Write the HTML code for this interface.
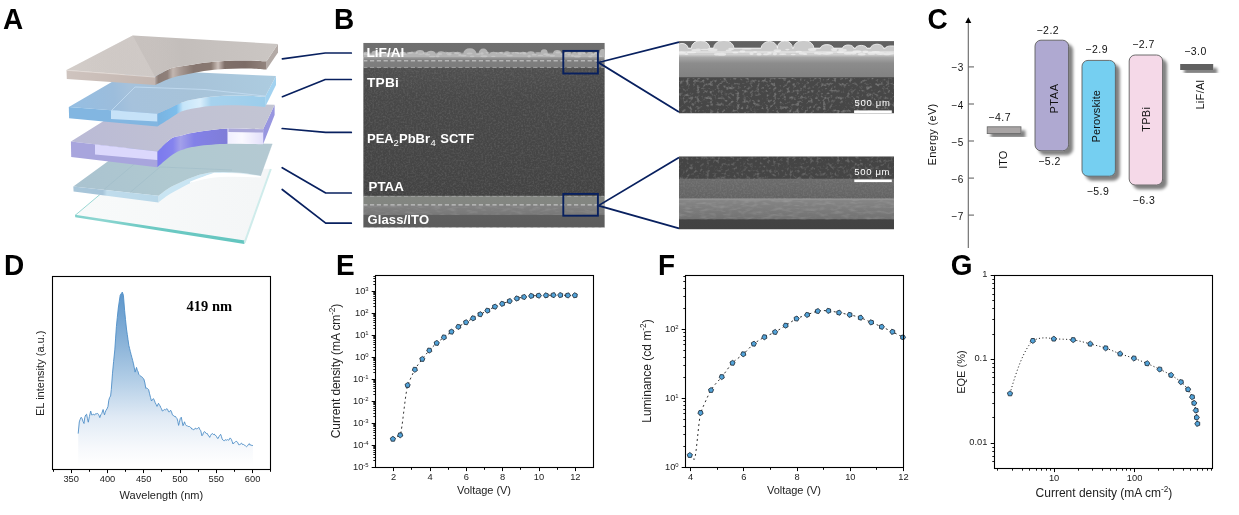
<!DOCTYPE html>
<html lang="en"><head><meta charset="utf-8"><title>Figure</title>
<style>
html,body{margin:0;padding:0;background:#fff;overflow:hidden}
svg{display:block}
text{font-family:"Liberation Sans",sans-serif}
.pl{font-size:29.3px;font-weight:bold;fill:#000}
.tk{font-size:9.3px;fill:#1c1c1c}
.ax{stroke:#000;stroke-width:1.2;fill:none}
.serif{font-family:"Liberation Serif",serif}
</style></head><body>
<svg width="1239" height="515" viewBox="0 0 1239 515">
<rect width="1239" height="515" fill="#fff"/>
<g id="panelA">
<defs>
<linearGradient id="aTop" x1="70" y1="70" x2="275" y2="45" gradientUnits="userSpaceOnUse"><stop offset="0" stop-color="#d3cdc9"/><stop offset="0.4" stop-color="#c9c3c0"/><stop offset="0.55" stop-color="#c3bebb"/><stop offset="1" stop-color="#cbc6c3"/></linearGradient>
<linearGradient id="aFront" x1="66" y1="0" x2="156" y2="0" gradientUnits="userSpaceOnUse"><stop offset="0" stop-color="#cfc4bf"/><stop offset="1" stop-color="#c3b5af"/></linearGradient>
<linearGradient id="aArc" x1="155" y1="0" x2="267" y2="0" gradientUnits="userSpaceOnUse"><stop offset="0" stop-color="#b3a59f"/><stop offset="0.03" stop-color="#8b7c76"/><stop offset="0.11" stop-color="#8f807a"/><stop offset="0.16" stop-color="#c2b6b0"/><stop offset="0.223" stop-color="#a89a94"/><stop offset="0.345" stop-color="#86766f"/><stop offset="0.5" stop-color="#88786f"/><stop offset="0.563" stop-color="#cbbfb9"/><stop offset="0.623" stop-color="#7f6f69"/><stop offset="0.805" stop-color="#7c6c66"/><stop offset="1" stop-color="#93847e"/></linearGradient>
<linearGradient id="bTop" x1="70" y1="110" x2="275" y2="80" gradientUnits="userSpaceOnUse"><stop offset="0" stop-color="#95bee2"/><stop offset="0.22" stop-color="#9cbddc"/><stop offset="0.3" stop-color="#a6c2dc"/><stop offset="0.6" stop-color="#a7c3d9"/><stop offset="1" stop-color="#adcce0"/></linearGradient>
<linearGradient id="bArc" x1="157" y1="0" x2="265" y2="0" gradientUnits="userSpaceOnUse"><stop offset="0" stop-color="#79b3e1"/><stop offset="0.18" stop-color="#7cbdeb"/><stop offset="0.24" stop-color="#c5e5f9"/><stop offset="0.4" stop-color="#d9eefc"/><stop offset="0.5" stop-color="#a6d2ee"/><stop offset="1" stop-color="#9ccdeb"/></linearGradient>
<linearGradient id="pTop" x1="70" y1="145" x2="275" y2="110" gradientUnits="userSpaceOnUse"><stop offset="0" stop-color="#babad6"/><stop offset="0.5" stop-color="#c0c1d3"/><stop offset="1" stop-color="#c3c5d3"/></linearGradient>
<linearGradient id="pArc" x1="157" y1="0" x2="263" y2="0" gradientUnits="userSpaceOnUse"><stop offset="0" stop-color="#7a79ee"/><stop offset="0.15" stop-color="#8583ee"/><stop offset="0.22" stop-color="#a3a0ea"/><stop offset="0.35" stop-color="#8381e8"/><stop offset="0.66" stop-color="#7f7dd8"/><stop offset="0.67" stop-color="#f0effe"/><stop offset="0.8" stop-color="#faf9ff"/><stop offset="1" stop-color="#e3e0fb"/></linearGradient>
<linearGradient id="tTop" x1="75" y1="190" x2="270" y2="150" gradientUnits="userSpaceOnUse"><stop offset="0" stop-color="#aac3d0"/><stop offset="0.5" stop-color="#b0c9d0"/><stop offset="1" stop-color="#b4c9d2"/></linearGradient>
<linearGradient id="tFront" x1="73" y1="0" x2="158" y2="0" gradientUnits="userSpaceOnUse"><stop offset="0" stop-color="#a8c6d9"/><stop offset="0.35" stop-color="#a6c4d9"/><stop offset="0.4" stop-color="#c0dcec"/><stop offset="1" stop-color="#b8d7e8"/></linearGradient>
<linearGradient id="gTop" x1="80" y1="215" x2="260" y2="180" gradientUnits="userSpaceOnUse"><stop offset="0" stop-color="#f8fafa"/><stop offset="1" stop-color="#f4f6f7"/></linearGradient>
<linearGradient id="aCrease" x1="143" y1="58" x2="180" y2="48" gradientUnits="userSpaceOnUse"><stop offset="0" stop-color="#bbb5b2" stop-opacity="0.2"/><stop offset="1" stop-color="#c4bebb" stop-opacity="0"/></linearGradient>
<linearGradient id="aCreaseL" x1="143" y1="58" x2="95" y2="70" gradientUnits="userSpaceOnUse"><stop offset="0" stop-color="#d8d2cf" stop-opacity="0.38"/><stop offset="1" stop-color="#d2ccc9" stop-opacity="0.1"/></linearGradient>
<linearGradient id="gEdge" x1="75" y1="0" x2="245" y2="0" gradientUnits="userSpaceOnUse"><stop offset="0" stop-color="#7fd0cb"/><stop offset="0.15" stop-color="#8ed6d1"/><stop offset="0.4" stop-color="#6ecac4"/><stop offset="1" stop-color="#63c5bf"/></linearGradient>
<filter id="ablur"><feGaussianBlur stdDeviation="0.45"/></filter>
</defs>
<g filter="url(#ablur)">
<path d="M75.2 215.3L135 165L271 169L244.8 242.6Z" fill="url(#gTop)"/>
<path d="M75 214.8L244.8 240.6L244.3 244L75.3 217.2Z" fill="url(#gEdge)"/>
<path d="M75.2 215.3L135 165" stroke="#8fd3cf" stroke-width="0.9" fill="none"/>
<path d="M244.6 242.6L270.8 169" stroke="#cfeceb" stroke-width="2" fill="none"/>
<path d="M272.4 143.8L272.4 144.3L260.8 176.3L260.8 176.0Z" fill="#b5d2de"/>
<path d="M158.5 195.7C160.2 194.4 164.9 190.5 168.7 188.2C172.5 185.9 177.1 183.8 181.3 181.9C185.5 180.0 190.5 178.1 193.9 176.8C197.3 175.5 198.1 175.1 201.5 174.3C204.9 173.5 209.0 172.5 214.1 172.2C219.2 171.9 226.3 172.1 231.8 172.3C237.3 172.5 242.2 173.0 247.0 173.6C251.8 174.2 258.5 175.6 260.8 176.0L260.8 176.3C258.5 175.9 251.8 174.5 247.0 173.9C242.2 173.3 237.3 172.8 231.8 172.7C226.3 172.6 219.2 172.6 214.1 173.4C209.0 174.2 204.9 176.2 201.5 177.5C198.1 178.8 197.3 179.5 193.9 181.2C190.5 182.9 185.5 185.4 181.3 187.7C177.1 190.0 172.5 192.3 168.7 194.8C164.9 197.3 160.2 201.2 158.5 202.5Z" fill="#c9e5f3"/>
<path d="M73.3 186.5L134.5 142.0L272.4 143.8L260.8 176.0C258.5 175.6 251.8 174.2 247.0 173.6C242.2 173.0 237.3 172.5 231.8 172.3C226.3 172.1 219.2 171.9 214.1 172.2C209.0 172.5 204.9 173.5 201.5 174.3C198.1 175.1 197.3 175.5 193.9 176.8C190.5 178.1 185.5 180.0 181.3 181.9C177.1 183.8 172.5 185.9 168.7 188.2C164.9 190.5 160.2 194.4 158.5 195.7Z" fill="url(#tTop)"/>
<path d="M73.3 186.5L158.5 195.7L158.5 202.5L73.6 191.5Z" fill="url(#tFront)"/>

<path d="M190 181.8C196 179.4 203 176.6 214.1 172.8C222 172.4 240 173 260.8 176.3L260.8 177.6C247 176.6 232 176.4 220 177C210 177.6 200 179.6 190 183Z" fill="#ffffff"/>
<path d="M104 189.5L139 160M130 192.5L160 167L232 170" stroke="#9dbac6" stroke-width="0.6" fill="none" opacity="0.8"/>
<path d="M274.6 104.8L274.6 115.0L263.1 144.2L263.1 129.2Z" fill="#9896e0"/>
<path d="M157.2 151.6C159.3 149.6 166.1 142.1 170.0 139.4C173.9 136.7 176.4 136.8 180.9 135.6C185.4 134.3 189.3 133.1 197.2 131.9C205.1 130.7 217.4 128.9 228.4 128.5C239.4 128.1 257.3 129.1 263.1 129.2L263.1 144.2C257.3 144.1 239.4 143.5 228.4 143.8C217.4 144.1 205.1 145.1 197.2 146.2C189.3 147.3 185.4 148.6 180.9 150.3C176.4 152.0 173.9 153.6 170.0 156.4C166.1 159.2 159.3 165.5 157.2 167.3Z" fill="url(#pArc)"/>
<path d="M70.9 141.5L134.0 102.0L274.6 104.8L263.1 129.2C257.3 129.1 239.4 128.1 228.4 128.5C217.4 128.9 205.1 130.7 197.2 131.9C189.3 133.1 185.4 134.3 180.9 135.6C176.4 136.8 173.9 136.7 170.0 139.4C166.1 142.1 159.3 149.6 157.2 151.6Z" fill="url(#pTop)"/>
<path d="M70.9 141.5L157.2 151.6L157.2 167.3L71.2 157.1Z" fill="#a8a5dd"/>
<path d="M95 144.4L157.2 151.6L157.2 160L95 154.4Z" fill="#dbd8fc"/>
<path d="M228.4 128.5L263.1 129.2L263.1 132.6L228.4 132Z" fill="#aaa7d9"/>
<path d="M276.0 76.0L276.0 85.1L265.1 106.9L265.1 96.7Z" fill="#a2d2f0"/>
<path d="M157.2 113.7C159.3 112.8 166.3 109.7 170.0 108.0C173.7 106.3 176.1 104.8 179.5 103.5C182.9 102.2 185.2 101.2 190.4 100.1C195.6 99.0 202.9 97.5 210.8 96.7C218.7 96.0 228.9 95.6 238.0 95.6C247.1 95.6 260.6 96.5 265.1 96.7L265.1 106.9C260.6 106.6 247.1 105.3 238.0 105.2C228.9 105.0 218.7 105.3 210.8 106.0C202.9 106.7 195.6 108.0 190.4 109.1C185.2 110.2 182.9 110.9 179.5 112.5C176.1 114.1 173.7 116.2 170.0 118.5C166.3 120.8 159.3 125.2 157.2 126.6Z" fill="url(#bArc)"/>
<path d="M68.8 106.9L133.3 69.5L276.0 76.0L265.1 96.7C260.6 96.5 247.1 95.6 238.0 95.6C228.9 95.6 218.7 96.0 210.8 96.7C202.9 97.5 195.6 99.0 190.4 100.1C185.2 101.2 182.9 102.2 179.5 103.5C176.1 104.8 173.7 106.3 170.0 108.0C166.3 109.7 159.3 112.8 157.2 113.7Z" fill="url(#bTop)"/>
<path d="M68.8 106.9L157.2 113.7L157.2 126.6L69.1 118.2Z" fill="#82b6e1"/>
<path d="M111 110.2L157.2 113.7L157.2 121.5L111 119Z" fill="#c6e2f8"/>
<path d="M112 110L135 87L205 89.5L265 96" stroke="#c4ddf2" stroke-width="1" fill="none" opacity="0.8"/>
<path d="M278.0 44.0L278.0 52.5L266.5 69.5L266.5 61.3Z" fill="#b3aaa6"/>
<path d="M155.1 76.7C157.6 75.4 165.2 70.6 170.0 68.8C174.8 67.0 177.9 67.1 183.6 66.1C189.3 65.1 197.2 63.6 204.0 62.7C210.8 61.9 217.6 61.4 224.4 61.0C231.2 60.6 237.7 60.6 244.7 60.6C251.7 60.6 262.9 61.2 266.5 61.3L266.5 69.5C262.9 69.3 251.7 68.6 244.7 68.5C237.7 68.4 231.2 68.6 224.4 69.0C217.6 69.4 210.8 70.0 204.0 71.0C197.2 72.0 189.3 73.8 183.6 75.0C177.9 76.2 174.8 76.8 170.0 78.5C165.2 80.2 157.6 84.0 155.1 85.1Z" fill="url(#aArc)"/>
<path d="M66.5 69.9L132.7 35.5L278.0 44.0L266.5 61.3C262.9 61.2 251.7 60.6 244.7 60.6C237.7 60.6 231.2 60.6 224.4 61.0C217.6 61.4 210.8 61.9 204.0 62.7C197.2 63.6 189.3 65.1 183.6 66.1C177.9 67.1 174.8 67.0 170.0 68.8C165.2 70.6 157.6 75.4 155.1 76.7Z" fill="url(#aTop)"/>
<path d="M66.5 69.9L155.1 76.7L155.1 85.1L66.8 79.0Z" fill="url(#aFront)"/>

<path d="M66.5 69.9L132.7 35.5L155.1 76.7Z" fill="url(#aCreaseL)"/>
<path d="M132.7 35.5L155.1 76.7L170 68.8L183.6 66.1L204 62.7L165 37.4Z" fill="url(#aCrease)"/>
<path d="M66.7 70.3L155.1 77.1" stroke="#e6dfdb" stroke-width="0.7" fill="none"/>
</g>
</g>
<g id="panelB">
<defs>
<filter id="nzA" x="0" y="0" width="100%" height="100%"><feTurbulence type="fractalNoise" baseFrequency="0.55" numOctaves="2" seed="4"/><feColorMatrix type="matrix" values="0 0 0 0 1  0 0 0 0 1  0 0 0 0 1  1.6 0 0 0 -0.62"/></filter>
<filter id="nzB" x="0" y="0" width="100%" height="100%"><feTurbulence type="fractalNoise" baseFrequency="0.3" numOctaves="2" seed="11"/><feColorMatrix type="matrix" values="0 0 0 0 1  0 0 0 0 1  0 0 0 0 1  3.5 0 0 0 -1.75"/><feGaussianBlur stdDeviation="0.4"/></filter>
<filter id="nzC" x="0" y="0" width="100%" height="100%"><feTurbulence type="fractalNoise" baseFrequency="0.12 0.35" numOctaves="2" seed="5"/><feColorMatrix type="matrix" values="0 0 0 0 1  0 0 0 0 1  0 0 0 0 1  1.8 0 0 0 -0.8"/></filter>
<filter id="bl1"><feGaussianBlur stdDeviation="0.7"/></filter>
<linearGradient id="semMain" x1="0" y1="42.7" x2="0" y2="227.3" gradientUnits="userSpaceOnUse">
<stop offset="0" stop-color="#b0b0b0"/><stop offset="0.003" stop-color="#6f6f6f"/><stop offset="0.047" stop-color="#6e6e6e"/>
<stop offset="0.058" stop-color="#8a8a8a"/><stop offset="0.07" stop-color="#a8a8a8"/><stop offset="0.08" stop-color="#9c9c9c"/>
<stop offset="0.094" stop-color="#808080"/><stop offset="0.131" stop-color="#7c7c7c"/>
<stop offset="0.137" stop-color="#4f4f4f"/><stop offset="0.3" stop-color="#484848"/><stop offset="0.827" stop-color="#434343"/>
<stop offset="0.832" stop-color="#838681"/><stop offset="0.876" stop-color="#828580"/>
<stop offset="0.881" stop-color="#828282"/><stop offset="0.930" stop-color="#787878"/><stop offset="0.936" stop-color="#5e5e5e"/><stop offset="1" stop-color="#5c5c5c"/>
</linearGradient>
<linearGradient id="semI1" x1="0" y1="41.1" x2="0" y2="113.5" gradientUnits="userSpaceOnUse">
<stop offset="0" stop-color="#616161"/><stop offset="0.085" stop-color="#626262"/><stop offset="0.1" stop-color="#cccccc"/>
<stop offset="0.185" stop-color="#d0d0d0"/><stop offset="0.225" stop-color="#a6a6a6"/><stop offset="0.307" stop-color="#8c8c8c"/>
<stop offset="0.413" stop-color="#868686"/><stop offset="0.493" stop-color="#828282"/><stop offset="0.506" stop-color="#484848"/><stop offset="1" stop-color="#464646"/>
</linearGradient>
<linearGradient id="semI2" x1="0" y1="156.3" x2="0" y2="229.5" gradientUnits="userSpaceOnUse">
<stop offset="0" stop-color="#444"/><stop offset="0.30" stop-color="#454545"/><stop offset="0.312" stop-color="#6b6b6b"/>
<stop offset="0.57" stop-color="#636363"/><stop offset="0.582" stop-color="#9a9a9a"/><stop offset="0.605" stop-color="#858585"/>
<stop offset="0.72" stop-color="#7c7c7c"/><stop offset="0.852" stop-color="#727272"/><stop offset="0.867" stop-color="#434343"/><stop offset="1" stop-color="#424242"/>
</linearGradient>
<clipPath id="cMain"><rect x="363.2" y="42.7" width="241.6" height="185"/></clipPath>
<clipPath id="cI1"><rect x="679" y="41.1" width="215" height="72.4"/></clipPath>
<clipPath id="cI2"><rect x="679" y="156.3" width="215" height="73.2"/></clipPath>
</defs>
<path d="M282.4 58.8L325.3 53L351.3 53" fill="none" stroke="#08205f" stroke-width="1.7" stroke-linejoin="round" stroke-linecap="round"/>
<path d="M282.4 96.7L325.3 79.5L351.3 79.5" fill="none" stroke="#08205f" stroke-width="1.7" stroke-linejoin="round" stroke-linecap="round"/>
<path d="M282.2 128.5L325.7 132.4L351.3 132.4" fill="none" stroke="#08205f" stroke-width="1.7" stroke-linejoin="round" stroke-linecap="round"/>
<path d="M282.2 167.7L325.7 193L351.3 193" fill="none" stroke="#08205f" stroke-width="1.7" stroke-linejoin="round" stroke-linecap="round"/>
<path d="M282.2 189.5L325.7 223.2L351.3 223.2" fill="none" stroke="#08205f" stroke-width="1.7" stroke-linejoin="round" stroke-linecap="round"/>
<g clip-path="url(#cMain)">
<rect x="363.2" y="42.7" width="241.6" height="185" fill="url(#semMain)"/>
<path d="M363 57L363 53.4L363.5 53.4A2.2 1.7 0 0 1 368.0 53.4L371.6 53.4A2.7 2.7 0 0 1 377.0 53.4L380.0 53.4A3.0 1.6 0 0 1 386.0 53.4L390.0 53.4A3.0 1.4 0 0 1 396.0 53.4L400.0 53.4A3.0 1.6 0 0 1 406.0 53.4L408.0 53.4A3.0 1.4 0 0 1 414.0 53.4L415.6 53.4A4.4 3.4 0 0 1 424.4 53.4L426.4 53.4A4.6 3.2 0 0 1 435.5 53.4L437.5 53.4A3.6 2.2 0 0 1 444.7 53.4L446.0 53.4A3.0 1.4 0 0 1 452.0 53.4L454.0 53.4A3.5 1.6 0 0 1 461.0 53.4L463.3 53.4A6.5 5.0 0 0 1 476.4 53.4L478.6 53.4A4.7 4.8 0 0 1 488.0 53.4L490.0 53.4A3.5 1.6 0 0 1 497.0 53.4L498.0 53.4A2.5 1.4 0 0 1 503.0 53.4L504.0 53.4A3.0 2.2 0 0 1 510.0 53.4L512.0 53.4A3.5 1.4 0 0 1 519.0 53.4L520.0 53.4A3.0 1.6 0 0 1 526.0 53.4L527.0 53.4A3.8 2.2 0 0 1 534.6 53.4L540.5 53.4A3.6 4.2 0 0 1 547.8 53.4L552.9 53.4A4.4 4.0 0 0 1 561.6 53.4L565.0 53.4A3.0 2.2 0 0 1 571.0 53.4L572.0 53.4A2.5 1.4 0 0 1 577.0 53.4L577.0 53.4A4.3 2.2 0 0 1 585.6 53.4L587.0 53.4A3.0 1.4 0 0 1 593.0 53.4L594.0 53.4A2.5 1.6 0 0 1 599.0 53.4L599.5 53.4A3.2 4.4 0 0 1 606.0 53.4L605 53.4L605 57Z" fill="#b4b4b4" filter="url(#bl1)"/>
<g fill="#d4d4d4" opacity="0.5" filter="url(#bl1)"><ellipse cx="364.9" cy="54.0" rx="1.8" ry="1.1"/><ellipse cx="367.5" cy="54.5" rx="3.3" ry="0.6"/><ellipse cx="373.2" cy="55.0" rx="1.6" ry="0.8"/><ellipse cx="377.6" cy="54.3" rx="3.0" ry="0.7"/><ellipse cx="380.2" cy="52.9" rx="2.5" ry="1.2"/><ellipse cx="385.3" cy="55.6" rx="2.3" ry="1.0"/><ellipse cx="387.8" cy="53.7" rx="2.8" ry="1.0"/><ellipse cx="392.8" cy="52.9" rx="2.0" ry="0.7"/><ellipse cx="396.3" cy="55.7" rx="1.9" ry="1.1"/><ellipse cx="402.1" cy="52.7" rx="2.3" ry="0.9"/><ellipse cx="403.6" cy="54.2" rx="3.3" ry="0.7"/><ellipse cx="409.3" cy="53.0" rx="2.7" ry="1.1"/><ellipse cx="412.1" cy="52.5" rx="1.7" ry="0.9"/><ellipse cx="415.6" cy="52.8" rx="2.5" ry="1.2"/><ellipse cx="420.8" cy="54.1" rx="2.8" ry="0.7"/><ellipse cx="425.2" cy="53.2" rx="2.7" ry="1.2"/><ellipse cx="427.7" cy="54.7" rx="2.7" ry="0.7"/><ellipse cx="432.3" cy="56.5" rx="3.5" ry="0.7"/><ellipse cx="437.6" cy="56.3" rx="2.0" ry="1.0"/><ellipse cx="439.6" cy="54.0" rx="2.8" ry="1.0"/><ellipse cx="445.8" cy="52.8" rx="2.2" ry="1.1"/><ellipse cx="449.3" cy="54.3" rx="2.3" ry="1.2"/><ellipse cx="453.2" cy="52.6" rx="3.1" ry="0.8"/><ellipse cx="456.8" cy="53.4" rx="2.4" ry="0.8"/><ellipse cx="459.8" cy="55.0" rx="1.7" ry="1.1"/><ellipse cx="463.6" cy="55.6" rx="3.1" ry="0.9"/><ellipse cx="469.6" cy="53.5" rx="3.0" ry="0.9"/><ellipse cx="472.2" cy="56.4" rx="2.3" ry="0.8"/><ellipse cx="478.1" cy="54.0" rx="2.8" ry="0.7"/><ellipse cx="482.0" cy="53.5" rx="1.6" ry="1.2"/><ellipse cx="484.0" cy="56.3" rx="3.5" ry="1.0"/><ellipse cx="487.5" cy="52.7" rx="1.9" ry="0.8"/><ellipse cx="493.3" cy="56.4" rx="2.2" ry="0.7"/><ellipse cx="497.2" cy="53.0" rx="1.7" ry="0.9"/><ellipse cx="501.6" cy="52.8" rx="2.4" ry="1.0"/><ellipse cx="505.8" cy="54.0" rx="3.3" ry="0.7"/><ellipse cx="509.6" cy="55.6" rx="3.3" ry="0.9"/><ellipse cx="511.8" cy="52.7" rx="2.6" ry="0.7"/><ellipse cx="517.4" cy="52.8" rx="3.1" ry="0.7"/><ellipse cx="519.5" cy="53.2" rx="2.4" ry="0.9"/><ellipse cx="524.7" cy="53.2" rx="2.5" ry="1.2"/><ellipse cx="529.1" cy="56.3" rx="1.6" ry="1.2"/><ellipse cx="534.2" cy="54.7" rx="2.5" ry="0.9"/><ellipse cx="538.2" cy="52.8" rx="2.8" ry="0.9"/><ellipse cx="540.4" cy="55.4" rx="2.9" ry="0.7"/><ellipse cx="545.6" cy="54.3" rx="2.5" ry="1.0"/><ellipse cx="547.7" cy="54.9" rx="2.2" ry="1.1"/><ellipse cx="552.2" cy="55.8" rx="3.0" ry="1.0"/><ellipse cx="558.1" cy="52.6" rx="2.7" ry="1.0"/><ellipse cx="561.5" cy="54.1" rx="1.6" ry="0.7"/><ellipse cx="565.3" cy="53.2" rx="1.6" ry="0.8"/><ellipse cx="568.9" cy="54.6" rx="1.6" ry="1.1"/><ellipse cx="572.5" cy="55.6" rx="1.5" ry="1.2"/><ellipse cx="577.3" cy="56.4" rx="3.5" ry="1.1"/><ellipse cx="579.8" cy="53.9" rx="2.0" ry="1.1"/><ellipse cx="584.1" cy="53.4" rx="1.7" ry="0.7"/><ellipse cx="590.3" cy="56.4" rx="2.2" ry="1.0"/><ellipse cx="592.9" cy="54.6" rx="2.2" ry="1.0"/><ellipse cx="596.2" cy="53.5" rx="2.5" ry="0.7"/><ellipse cx="600.8" cy="56.3" rx="1.5" ry="0.7"/></g>
<rect x="363.2" y="67.5" width="241.6" height="128.5" filter="url(#nzA)" opacity="0.14"/>
<rect x="363.2" y="205.5" width="241.6" height="9" filter="url(#nzC)" opacity="0.14"/>
<line x1="363.2" y1="60.8" x2="604.8" y2="60.8" stroke="#b6b6b6" stroke-width="1.4" stroke-dasharray="4.2 2.6"/>
<line x1="363.2" y1="67.4" x2="604.8" y2="67.4" stroke="#a8a8a8" stroke-width="0.9" stroke-dasharray="4.2 2.6"/>
<line x1="363.2" y1="196.4" x2="604.8" y2="196.4" stroke="#a2a2a2" stroke-width="0.9" stroke-dasharray="4.2 2.6"/>
<line x1="363.2" y1="204.9" x2="604.8" y2="204.9" stroke="#c2c2c2" stroke-width="1.2" stroke-dasharray="4.2 2.6"/>
<line x1="363.2" y1="227.5" x2="604.8" y2="227.5" stroke="#c8c8c8" stroke-width="0.7" stroke-dasharray="4.2 2.6"/>
</g>
<g clip-path="url(#cI1)">
<rect x="679" y="41.1" width="215" height="72.4" fill="url(#semI1)"/>
<path d="M678 52L678 48.3L676.0 48.3A6.0 4.9 0 0 1 688.0 48.3L691.3 48.3A9.3 7.7 0 0 1 709.9 48.3L713.6 48.3A10.2 7.9 0 0 1 734.0 48.3L761.0 48.3A8.4 7.7 0 0 1 777.7 48.3L777.2 48.3A7.6 7.5 0 0 1 792.5 48.3L793.4 48.3A10.2 7.9 0 0 1 813.9 48.3L820.4 48.3A6.5 3.7 0 0 1 833.4 48.3L842.6 48.3A5.6 3.3 0 0 1 853.8 48.3L855.6 48.3A5.6 2.9 0 0 1 866.8 48.3L870.5 48.3A6.5 4.1 0 0 1 883.5 48.3L885.3 48.3A6.4 2.7 0 0 1 898.0 48.3L895 48.3L895 52Z" fill="#cacaca" stroke="#f0f0f0" stroke-width="0.9" filter="url(#bl1)"/>
<g fill="#f6f6f6" opacity="0.6" filter="url(#bl1)"><ellipse cx="681.4" cy="53.0" rx="4.4" ry="1.5"/><ellipse cx="686.4" cy="54.0" rx="2.1" ry="1.1"/><ellipse cx="691.6" cy="52.4" rx="4.7" ry="0.8"/><ellipse cx="694.9" cy="50.1" rx="3.6" ry="1.2"/><ellipse cx="698.1" cy="49.9" rx="2.8" ry="1.4"/><ellipse cx="705.0" cy="49.5" rx="4.4" ry="0.8"/><ellipse cx="709.3" cy="49.3" rx="2.0" ry="1.4"/><ellipse cx="712.7" cy="49.9" rx="4.9" ry="1.4"/><ellipse cx="717.6" cy="54.3" rx="3.6" ry="1.2"/><ellipse cx="722.0" cy="54.2" rx="4.1" ry="1.5"/><ellipse cx="728.7" cy="50.4" rx="3.1" ry="0.8"/><ellipse cx="731.1" cy="49.0" rx="2.9" ry="1.2"/><ellipse cx="735.3" cy="52.6" rx="3.0" ry="0.9"/><ellipse cx="742.4" cy="51.4" rx="2.9" ry="1.1"/><ellipse cx="746.7" cy="48.9" rx="4.9" ry="0.7"/><ellipse cx="751.5" cy="53.6" rx="2.1" ry="1.3"/><ellipse cx="755.0" cy="52.0" rx="2.0" ry="0.7"/><ellipse cx="759.1" cy="54.2" rx="2.6" ry="1.3"/><ellipse cx="766.0" cy="54.2" rx="3.0" ry="1.0"/><ellipse cx="769.4" cy="53.2" rx="2.3" ry="1.3"/><ellipse cx="774.9" cy="53.7" rx="2.1" ry="1.5"/><ellipse cx="777.4" cy="50.6" rx="3.8" ry="1.4"/><ellipse cx="782.8" cy="54.1" rx="3.6" ry="0.9"/><ellipse cx="787.4" cy="49.6" rx="2.2" ry="0.8"/><ellipse cx="793.2" cy="54.5" rx="2.5" ry="0.7"/><ellipse cx="798.7" cy="51.7" rx="3.2" ry="0.9"/><ellipse cx="802.2" cy="53.5" rx="3.4" ry="1.0"/><ellipse cx="805.2" cy="54.0" rx="2.1" ry="1.1"/><ellipse cx="812.2" cy="49.4" rx="4.2" ry="1.5"/><ellipse cx="816.2" cy="53.2" rx="2.3" ry="1.0"/><ellipse cx="819.4" cy="53.6" rx="2.9" ry="1.1"/><ellipse cx="826.6" cy="53.6" rx="4.9" ry="1.1"/><ellipse cx="829.8" cy="52.9" rx="3.4" ry="0.9"/><ellipse cx="834.2" cy="49.5" rx="3.1" ry="1.5"/><ellipse cx="840.5" cy="52.3" rx="3.5" ry="1.0"/><ellipse cx="842.5" cy="50.2" rx="4.3" ry="1.4"/><ellipse cx="848.0" cy="53.2" rx="4.3" ry="1.3"/><ellipse cx="853.5" cy="53.1" rx="3.1" ry="1.3"/><ellipse cx="857.0" cy="51.5" rx="4.3" ry="1.3"/><ellipse cx="861.7" cy="54.2" rx="3.9" ry="1.2"/><ellipse cx="865.5" cy="51.8" rx="2.8" ry="1.2"/><ellipse cx="871.5" cy="53.4" rx="3.9" ry="1.3"/><ellipse cx="875.8" cy="52.4" rx="4.2" ry="1.4"/><ellipse cx="880.5" cy="53.6" rx="4.6" ry="1.3"/><ellipse cx="887.0" cy="54.2" rx="3.6" ry="1.1"/><ellipse cx="889.2" cy="53.5" rx="4.8" ry="1.1"/></g>
<rect x="679" y="78" width="215" height="35.5" filter="url(#nzB)" opacity="0.24"/>
</g>
<rect x="854.1" y="110.4" width="37.7" height="2.6" fill="#fff"/>
<text x="854.6" y="105.7" font-size="9.5" fill="#fff" textLength="35.2">500 μm</text>
<g clip-path="url(#cI2)">
<rect x="679" y="156.3" width="215" height="73.2" fill="url(#semI2)"/>
<rect x="679" y="156.3" width="215" height="22.5" filter="url(#nzB)" opacity="0.17"/>
<rect x="679" y="179" width="215" height="19.5" filter="url(#nzA)" opacity="0.12"/>
<rect x="679" y="200" width="215" height="19.3" filter="url(#nzC)" opacity="0.16"/>
</g>
<rect x="854.3" y="179.5" width="37.5" height="2.6" fill="#fff"/>
<text x="854.3" y="175" font-size="9.5" fill="#fff" textLength="35.2">500 μm</text>
<rect x="563.3" y="50.9" width="34.6" height="22.6" fill="none" stroke="#08205f" stroke-width="1.9"/>
<rect x="563.3" y="193.9" width="34.6" height="21.8" fill="none" stroke="#08205f" stroke-width="1.9"/>
<path d="M679 42.2L598.5 62.5L679 111.9" fill="none" stroke="#08205f" stroke-width="1.8"/>
<path d="M679 157.5L598.5 205.6L679 228.3" fill="none" stroke="#08205f" stroke-width="1.8"/>
<text x="366.4" y="56.9" font-size="13.7" font-weight="bold" fill="#fff">LiF/Al</text>
<text x="367" y="86.8" font-size="13.7" font-weight="bold" fill="#fff" letter-spacing="0.2">TPBi</text>
<text y="143" font-size="13" font-weight="bold" fill="#fff"><tspan x="367">PEA</tspan><tspan x="393.6" y="146" font-size="9.5" font-weight="normal">2</tspan><tspan x="399" y="143">PbBr</tspan><tspan x="430.6" y="146" font-size="9.5" font-weight="normal">4</tspan><tspan x="440.3" y="143">SCTF</tspan></text>
<text x="368.6" y="191" font-size="13.3" font-weight="bold" fill="#fff">PTAA</text>
<text x="367.4" y="223.7" font-size="13" font-weight="bold" fill="#fff" textLength="61.6">Glass/ITO</text>
</g>
<g id="panelC">
<defs><filter id="sh" x="-30%" y="-30%" width="180%" height="180%"><feGaussianBlur in="SourceAlpha" stdDeviation="1.4"/><feOffset dx="4" dy="3.8"/><feComponentTransfer><feFuncA type="linear" slope="0.5"/></feComponentTransfer><feMerge><feMergeNode/><feMergeNode in="SourceGraphic"/></feMerge></filter></defs>
<line x1="968.3" y1="22" x2="968.3" y2="248" stroke="#666" stroke-width="1.1"/>
<path d="M968.3 17.2 L971.3 23 L965.3 23 Z" fill="#000"/>
<line x1="968.3" y1="66.9" x2="974" y2="66.9" stroke="#666" stroke-width="1.1"/>
<text x="963.6" y="71.4" font-size="10" text-anchor="end" fill="#111" letter-spacing="0.4">−3</text>
<line x1="968.3" y1="104.0" x2="974" y2="104.0" stroke="#666" stroke-width="1.1"/>
<text x="963.6" y="108.5" font-size="10" text-anchor="end" fill="#111" letter-spacing="0.4">−4</text>
<line x1="968.3" y1="141.0" x2="974" y2="141.0" stroke="#666" stroke-width="1.1"/>
<text x="963.6" y="145.5" font-size="10" text-anchor="end" fill="#111" letter-spacing="0.4">−5</text>
<line x1="968.3" y1="178.1" x2="974" y2="178.1" stroke="#666" stroke-width="1.1"/>
<text x="963.6" y="182.6" font-size="10" text-anchor="end" fill="#111" letter-spacing="0.4">−6</text>
<line x1="968.3" y1="215.1" x2="974" y2="215.1" stroke="#666" stroke-width="1.1"/>
<text x="963.6" y="219.6" font-size="10" text-anchor="end" fill="#111" letter-spacing="0.4">−7</text>
<text transform="translate(936.4,134.5) rotate(-90)" font-size="11" text-anchor="middle" fill="#111" letter-spacing="0.3">Energy (eV)</text>
<rect x="987.2" y="126.8" width="33.8" height="6.8" fill="#a9a5a5" stroke="#666" stroke-width="0.8" filter="url(#sh)"/>
<rect x="1035" y="40.2" width="33.6" height="110.6" rx="6" ry="6" fill="#afa9d1" stroke="#5f5f5f" stroke-width="0.9" filter="url(#sh)"/>
<text transform="translate(1057.8,98.5) rotate(-90)" font-size="11" text-anchor="middle" fill="#111" letter-spacing="0.55">PTAA</text>
<rect x="1082" y="60.4" width="33.4" height="115.8" rx="6" ry="6" fill="#74cff1" stroke="#5f5f5f" stroke-width="0.9" filter="url(#sh)"/>
<text transform="translate(1100.3,116.2) rotate(-90)" font-size="11" text-anchor="middle" fill="#111" letter-spacing="0.12">Perovskite</text>
<rect x="1129.2" y="55" width="33.4" height="130" rx="6" ry="6" fill="#f5d9e8" stroke="#5f5f5f" stroke-width="0.9" filter="url(#sh)"/>
<text transform="translate(1150,119.3) rotate(-90)" font-size="11" text-anchor="middle" fill="#111" letter-spacing="0.25">TPBi</text>
<rect x="1180.2" y="64" width="33" height="6" fill="#606060" filter="url(#sh)"/>
<text transform="translate(1007.4,159.8) rotate(-90)" font-size="11" text-anchor="middle" fill="#111">ITO</text>
<text transform="translate(1204.2,94.6) rotate(-90)" font-size="11" text-anchor="middle" fill="#111" letter-spacing="0.3">LiF/Al</text>
<text x="1047.8" y="33.8" font-size="10.5" text-anchor="middle" fill="#111" letter-spacing="0.5">−2.2</text>
<text x="1049.6" y="164.9" font-size="10.5" text-anchor="middle" fill="#111" letter-spacing="0.5">−5.2</text>
<text x="1096.7" y="52.9" font-size="10.5" text-anchor="middle" fill="#111" letter-spacing="0.5">−2.9</text>
<text x="1098" y="194.9" font-size="10.5" text-anchor="middle" fill="#111" letter-spacing="0.5">−5.9</text>
<text x="1143.5" y="48" font-size="10.5" text-anchor="middle" fill="#111" letter-spacing="0.5">−2.7</text>
<text x="1143.9" y="203.6" font-size="10.5" text-anchor="middle" fill="#111" letter-spacing="0.5">−6.3</text>
<text x="1195.5" y="54.8" font-size="10.5" text-anchor="middle" fill="#111" letter-spacing="0.5">−3.0</text>
<text x="999.7" y="121" font-size="10.5" text-anchor="middle" fill="#111" letter-spacing="0.5">−4.7</text>
</g>
<g id="panelD">
<defs><linearGradient id="gD" x1="0" y1="292" x2="0" y2="466" gradientUnits="userSpaceOnUse"><stop offset="0" stop-color="#5d96cb"/><stop offset="0.3" stop-color="#8cb4d9"/><stop offset="0.5" stop-color="#b1cde6"/><stop offset="0.72" stop-color="#e0eaf5"/><stop offset="0.9" stop-color="#f7f9fc"/><stop offset="1" stop-color="#ffffff"/></linearGradient></defs>
<path d="M78.2 433.6L79.3 421.9L80.2 419.3L81.2 417.3L82.1 418.7L83.1 421.7L84.0 423.5L84.8 417.3L85.7 415.0L86.6 414.2L87.4 418.3L88.3 422.2L89.4 416.5L90.7 411.1L91.7 414.9L92.5 414.7L93.2 414.1L94.0 414.9L94.8 414.9L95.7 413.6L96.7 413.8L97.6 413.4L98.7 414.7L99.8 417.6L100.8 414.8L101.8 413.4L103.1 409.5L104.5 414.9L105.2 412.5L106.0 410.3L107.0 408.9L108.0 406.4L108.8 400.2L109.7 397.4L110.6 396.0L111.3 389.6L112.5 373.2L113.6 361.6L114.8 349.9L115.6 338.1L116.4 326.6L117.3 317.4L118.3 308.0L119.2 301.9L120.2 295.2L121.2 293.7L122.3 292.1L123.4 295.2L124.6 310.3L125.5 319.6L126.5 329.0L127.3 334.7L128.0 339.6L128.8 345.3L129.6 348.6L130.3 351.4L131.1 354.6L131.9 357.5L132.7 360.6L133.5 363.9L134.3 367.9L135.1 372.1L136.5 367.4L137.3 370.3L138.0 371.5L138.8 374.4L139.7 375.3L140.7 376.2L141.6 376.7L142.4 377.3L143.1 378.4L143.9 379.1L144.9 383.0L145.8 388.4L146.7 388.0L147.7 388.7L148.6 389.6L149.6 393.8L150.5 397.4L151.5 401.0L152.4 399.7L153.4 398.6L154.3 400.2L155.2 402.7L156.1 404.4L157.0 406.4L157.8 404.5L158.5 403.3L159.2 404.9L160.0 405.5L160.8 407.7L161.5 408.7L162.3 411.0L163.1 410.6L163.9 410.0L164.7 409.4L165.5 409.8L166.2 409.3L167.0 408.6L167.8 409.8L168.5 411.7L169.6 411.8L170.6 410.2L171.5 411.8L172.4 414.8L173.2 415.2L174.0 416.3L174.8 416.4L175.6 416.5L176.3 417.9L177.1 418.7L177.8 421.2L178.6 425.4L179.4 422.4L180.2 418.7L181.3 417.2L182.2 421.9L183.0 425.7L183.8 423.9L184.5 421.8L185.4 424.4L186.4 425.7L187.2 425.6L187.9 426.5L188.7 426.5L189.5 426.5L190.3 427.3L191.1 427.7L191.8 429.1L192.6 429.1L193.4 429.8L194.2 428.9L194.9 429.2L195.7 428.1L196.5 428.8L197.3 428.7L198.0 428.1L198.8 427.3L199.8 429.7L200.7 430.4L201.9 435.8L202.7 435.0L203.5 432.6L204.3 431.6L205.1 432.0L205.8 433.2L206.6 433.5L207.4 433.6L208.1 435.4L208.9 435.8L209.7 437.4L210.6 435.4L211.6 434.0L212.5 433.5L213.4 434.6L214.2 434.0L215.1 435.3L215.9 435.6L216.6 436.7L217.4 438.3L218.2 438.4L219.0 436.3L219.8 435.6L220.6 434.3L221.4 436.3L222.1 438.8L222.9 440.0L223.7 440.6L224.5 440.7L225.2 439.7L226.0 440.0L226.8 440.2L227.6 439.6L228.4 440.2L229.1 439.9L229.9 438.1L230.7 438.4L231.5 439.7L232.2 441.7L233.0 444.0L233.8 442.8L234.6 442.6L235.3 442.1L236.1 441.2L236.9 441.7L237.6 442.3L238.4 444.0L239.2 445.1L240.0 444.2L240.7 443.9L241.5 443.1L242.3 444.4L243.1 444.4L243.8 444.6L244.6 445.1L245.6 446.1L246.6 446.7L247.6 445.8L248.5 444.3L249.3 443.6L250.0 445.3L250.8 444.7L251.9 445.6L252.9 445.4L252.9 466L78.2 466Z" fill="url(#gD)" stroke="none"/>
<path d="M78.2 433.6L79.3 421.9L80.2 419.3L81.2 417.3L82.1 418.7L83.1 421.7L84.0 423.5L84.8 417.3L85.7 415.0L86.6 414.2L87.4 418.3L88.3 422.2L89.4 416.5L90.7 411.1L91.7 414.9L92.5 414.7L93.2 414.1L94.0 414.9L94.8 414.9L95.7 413.6L96.7 413.8L97.6 413.4L98.7 414.7L99.8 417.6L100.8 414.8L101.8 413.4L103.1 409.5L104.5 414.9L105.2 412.5L106.0 410.3L107.0 408.9L108.0 406.4L108.8 400.2L109.7 397.4L110.6 396.0L111.3 389.6L112.5 373.2L113.6 361.6L114.8 349.9L115.6 338.1L116.4 326.6L117.3 317.4L118.3 308.0L119.2 301.9L120.2 295.2L121.2 293.7L122.3 292.1L123.4 295.2L124.6 310.3L125.5 319.6L126.5 329.0L127.3 334.7L128.0 339.6L128.8 345.3L129.6 348.6L130.3 351.4L131.1 354.6L131.9 357.5L132.7 360.6L133.5 363.9L134.3 367.9L135.1 372.1L136.5 367.4L137.3 370.3L138.0 371.5L138.8 374.4L139.7 375.3L140.7 376.2L141.6 376.7L142.4 377.3L143.1 378.4L143.9 379.1L144.9 383.0L145.8 388.4L146.7 388.0L147.7 388.7L148.6 389.6L149.6 393.8L150.5 397.4L151.5 401.0L152.4 399.7L153.4 398.6L154.3 400.2L155.2 402.7L156.1 404.4L157.0 406.4L157.8 404.5L158.5 403.3L159.2 404.9L160.0 405.5L160.8 407.7L161.5 408.7L162.3 411.0L163.1 410.6L163.9 410.0L164.7 409.4L165.5 409.8L166.2 409.3L167.0 408.6L167.8 409.8L168.5 411.7L169.6 411.8L170.6 410.2L171.5 411.8L172.4 414.8L173.2 415.2L174.0 416.3L174.8 416.4L175.6 416.5L176.3 417.9L177.1 418.7L177.8 421.2L178.6 425.4L179.4 422.4L180.2 418.7L181.3 417.2L182.2 421.9L183.0 425.7L183.8 423.9L184.5 421.8L185.4 424.4L186.4 425.7L187.2 425.6L187.9 426.5L188.7 426.5L189.5 426.5L190.3 427.3L191.1 427.7L191.8 429.1L192.6 429.1L193.4 429.8L194.2 428.9L194.9 429.2L195.7 428.1L196.5 428.8L197.3 428.7L198.0 428.1L198.8 427.3L199.8 429.7L200.7 430.4L201.9 435.8L202.7 435.0L203.5 432.6L204.3 431.6L205.1 432.0L205.8 433.2L206.6 433.5L207.4 433.6L208.1 435.4L208.9 435.8L209.7 437.4L210.6 435.4L211.6 434.0L212.5 433.5L213.4 434.6L214.2 434.0L215.1 435.3L215.9 435.6L216.6 436.7L217.4 438.3L218.2 438.4L219.0 436.3L219.8 435.6L220.6 434.3L221.4 436.3L222.1 438.8L222.9 440.0L223.7 440.6L224.5 440.7L225.2 439.7L226.0 440.0L226.8 440.2L227.6 439.6L228.4 440.2L229.1 439.9L229.9 438.1L230.7 438.4L231.5 439.7L232.2 441.7L233.0 444.0L233.8 442.8L234.6 442.6L235.3 442.1L236.1 441.2L236.9 441.7L237.6 442.3L238.4 444.0L239.2 445.1L240.0 444.2L240.7 443.9L241.5 443.1L242.3 444.4L243.1 444.4L243.8 444.6L244.6 445.1L245.6 446.1L246.6 446.7L247.6 445.8L248.5 444.3L249.3 443.6L250.0 445.3L250.8 444.7L251.9 445.6L252.9 445.4" fill="none" stroke="#4f8fc7" stroke-width="0.9" stroke-linejoin="round"/>
<rect x="52.5" y="276.5" width="218.0" height="193.0" fill="none" stroke="#000" stroke-width="1.1"/>
<path d="M71.5 469.5v3.6M107.5 469.5v3.6M143.5 469.5v3.6M180.5 469.5v3.6M216.5 469.5v3.6M252.5 469.5v3.6" stroke="#000" stroke-width="1.0" fill="none"/>
<path d="M89.5 469.5v2.3M125.5 469.5v2.3M161.5 469.5v2.3M198.5 469.5v2.3M234.5 469.5v2.3M53.5 469.5v2.3M270.5 469.5v2.3" stroke="#000" stroke-width="1.0" fill="none"/>
<text class="tk" x="71.2" y="481.8" text-anchor="middle">350</text>
<text class="tk" x="107.5" y="481.8" text-anchor="middle">400</text>
<text class="tk" x="143.7" y="481.8" text-anchor="middle">450</text>
<text class="tk" x="180.0" y="481.8" text-anchor="middle">500</text>
<text class="tk" x="216.3" y="481.8" text-anchor="middle">550</text>
<text class="tk" x="252.6" y="481.8" text-anchor="middle">600</text>
<text x="119.6" y="498.5" font-size="11" textLength="83.6" fill="#222">Wavelength (nm)</text>
<text transform="translate(44.4,416) rotate(-90)" font-size="11" textLength="85.5" fill="#222">EL intensity (a.u.)</text>
<text class="serif" x="186.6" y="311.1" font-size="14.5" font-weight="bold" fill="#000">419 nm</text>
</g>
<g id="panelE">
<path d="M392.9 439L400.2 435.1C402.5 428 404.5 400 407.6 385.2C408.8 382.6 412.4 374.0 414.9 369.6C417.3 365.2 419.9 362.3 422.3 359.1C424.7 355.9 426.9 353.1 429.3 350.4C431.7 347.7 434.2 345.3 436.7 343.1C439.1 340.9 441.6 339.2 444.0 337.3C446.4 335.4 449.0 333.6 451.4 331.8C453.8 330.1 456.0 328.4 458.4 326.8C460.8 325.2 463.6 323.8 466.0 322.4C468.4 321.0 470.7 319.5 473.1 318.2C475.5 316.9 477.8 315.6 480.2 314.3C482.6 313.0 485.1 311.9 487.5 310.6C489.9 309.3 492.4 307.8 494.9 306.7C497.3 305.6 499.8 304.7 502.2 303.8C504.6 302.9 507.2 302.0 509.6 301.1C512.1 300.2 514.5 299.2 516.9 298.5C519.3 297.8 521.6 297.4 524.0 297.0C526.4 296.6 528.8 296.1 531.3 295.9C533.8 295.7 536.2 295.7 538.7 295.6C541.2 295.5 543.5 295.5 546.0 295.4C548.5 295.3 551.0 295.2 553.4 295.1C555.8 295.1 558.0 295.1 560.4 295.1C562.8 295.2 565.4 295.3 567.8 295.4C570.2 295.4 573.7 295.4 574.9 295.4" fill="none" stroke="#1a1a1a" stroke-width="0.9" stroke-dasharray="2 3"/>
<path d="M392.9 436.3L395.5 438.2L394.5 441.2L391.3 441.2L390.3 438.2ZM401.8 432.9L402.8 436.0L400.2 437.8L397.6 435.9L398.7 432.9ZM407.7 382.5L410.2 384.5L409.1 387.4L405.9 387.3L405.1 384.3ZM416.6 367.5L417.4 370.6L414.8 372.3L412.3 370.3L413.4 367.3ZM422.5 356.4L424.9 358.4L423.7 361.4L420.6 361.2L419.8 358.1ZM431.1 348.4L431.8 351.5L429.1 353.1L426.7 351.0L427.9 348.1ZM437.0 340.4L439.3 342.5L438.1 345.4L434.9 345.1L434.2 342.0ZM445.8 335.3L446.4 338.4L443.7 340.0L441.3 337.8L442.7 334.9ZM451.8 329.1L454.1 331.3L452.7 334.2L449.5 333.7L449.0 330.6ZM460.3 324.9L460.8 328.0L458.0 329.5L455.7 327.2L457.2 324.4ZM466.5 319.7L468.7 322.0L467.2 324.8L464.1 324.3L463.6 321.1ZM475.1 316.4L475.5 319.5L472.6 320.9L470.4 318.5L472.0 315.8ZM480.8 311.7L482.9 314.0L481.3 316.8L478.2 316.1L477.9 312.9ZM489.5 308.8L489.8 312.0L486.9 313.2L484.8 310.8L486.4 308.1ZM495.6 304.1L497.6 306.5L495.9 309.2L492.8 308.4L492.6 305.3ZM504.3 302.1L504.5 305.3L501.5 306.4L499.5 303.9L501.2 301.3ZM510.3 298.5L512.3 301.0L510.5 303.6L507.5 302.8L507.4 299.6ZM519.1 296.9L519.1 300.0L516.1 301.1L514.2 298.5L516.0 295.9ZM524.8 294.4L526.7 297.0L524.8 299.6L521.8 298.6L521.8 295.4ZM533.5 294.4L533.5 297.5L530.4 298.5L528.6 295.9L530.5 293.3ZM539.6 293.1L541.4 295.7L539.4 298.2L536.5 297.1L536.6 293.9ZM548.3 293.9L548.1 297.1L545.0 297.9L543.3 295.3L545.3 292.8ZM554.4 292.6L556.1 295.3L554.1 297.7L551.1 296.5L551.3 293.4ZM562.7 293.7L562.4 296.9L559.3 297.6L557.7 294.9L559.8 292.5ZM568.9 292.9L570.5 295.7L568.4 298.0L565.5 296.8L565.8 293.6ZM577.3 294.1L576.9 297.2L573.8 297.8L572.2 295.1L574.4 292.7Z" fill="#52a3d9" stroke="#1f2a36" stroke-width="0.85" stroke-linejoin="round"/>
<rect x="375.5" y="275.5" width="218.0" height="192.0" fill="none" stroke="#000" stroke-width="1.1"/>
<path d="M393.5 467.5v3.6M430.5 467.5v3.6M466.5 467.5v3.6M502.5 467.5v3.6M539.5 467.5v3.6M575.5 467.5v3.6" stroke="#000" stroke-width="1.0" fill="none"/>
<path d="M411.5 467.5v2.3M448.5 467.5v2.3M484.5 467.5v2.3M520.5 467.5v2.3M557.5 467.5v2.3" stroke="#000" stroke-width="1.0" fill="none"/>
<path d="M375.5 467.5h-3.8M375.5 445.5h-3.8M375.5 423.5h-3.8M375.5 401.5h-3.8M375.5 379.5h-3.8M375.5 357.5h-3.8M375.5 335.5h-3.8M375.5 313.5h-3.8M375.5 291.5h-3.8" stroke="#000" stroke-width="1.0" fill="none"/>
<path d="M375.5 460.5h-2.2M375.5 457.5h-2.2M375.5 454.5h-2.2M375.5 452.5h-2.2M375.5 450.5h-2.2M375.5 448.5h-2.2M375.5 447.5h-2.2M375.5 446.5h-2.2M375.5 438.5h-2.2M375.5 435.5h-2.2M375.5 432.5h-2.2M375.5 430.5h-2.2M375.5 428.5h-2.2M375.5 426.5h-2.2M375.5 425.5h-2.2M375.5 424.5h-2.2M375.5 416.5h-2.2M375.5 413.5h-2.2M375.5 410.5h-2.2M375.5 408.5h-2.2M375.5 406.5h-2.2M375.5 404.5h-2.2M375.5 403.5h-2.2M375.5 402.5h-2.2M375.5 394.5h-2.2M375.5 391.5h-2.2M375.5 388.5h-2.2M375.5 386.5h-2.2M375.5 384.5h-2.2M375.5 382.5h-2.2M375.5 381.5h-2.2M375.5 380.5h-2.2M375.5 372.5h-2.2M375.5 369.5h-2.2M375.5 366.5h-2.2M375.5 364.5h-2.2M375.5 362.5h-2.2M375.5 360.5h-2.2M375.5 359.5h-2.2M375.5 358.5h-2.2M375.5 350.5h-2.2M375.5 347.5h-2.2M375.5 344.5h-2.2M375.5 342.5h-2.2M375.5 340.5h-2.2M375.5 338.5h-2.2M375.5 337.5h-2.2M375.5 336.5h-2.2M375.5 328.5h-2.2M375.5 325.5h-2.2M375.5 322.5h-2.2M375.5 320.5h-2.2M375.5 318.5h-2.2M375.5 316.5h-2.2M375.5 315.5h-2.2M375.5 314.5h-2.2M375.5 306.5h-2.2M375.5 303.5h-2.2M375.5 300.5h-2.2M375.5 298.5h-2.2M375.5 296.5h-2.2M375.5 294.5h-2.2M375.5 293.5h-2.2M375.5 292.5h-2.2M375.5 284.5h-2.2M375.5 281.5h-2.2M375.5 278.5h-2.2M375.5 276.5h-2.2" stroke="#000" stroke-width="0.9" fill="none"/>
<text x="368.6" y="470.1" class="tk" font-size="9.2" text-anchor="end">10<tspan font-size="5.9" dy="-3.6">-5</tspan></text>
<text x="368.6" y="448.1" class="tk" font-size="9.2" text-anchor="end">10<tspan font-size="5.9" dy="-3.6">-4</tspan></text>
<text x="368.6" y="426.1" class="tk" font-size="9.2" text-anchor="end">10<tspan font-size="5.9" dy="-3.6">-3</tspan></text>
<text x="368.6" y="404.1" class="tk" font-size="9.2" text-anchor="end">10<tspan font-size="5.9" dy="-3.6">-2</tspan></text>
<text x="368.6" y="382.1" class="tk" font-size="9.2" text-anchor="end">10<tspan font-size="5.9" dy="-3.6">-1</tspan></text>
<text x="368.6" y="360.1" class="tk" font-size="9.2" text-anchor="end">10<tspan font-size="5.9" dy="-3.6">0</tspan></text>
<text x="368.6" y="338.1" class="tk" font-size="9.2" text-anchor="end">10<tspan font-size="5.9" dy="-3.6">1</tspan></text>
<text x="368.6" y="316.1" class="tk" font-size="9.2" text-anchor="end">10<tspan font-size="5.9" dy="-3.6">2</tspan></text>
<text x="368.6" y="294.1" class="tk" font-size="9.2" text-anchor="end">10<tspan font-size="5.9" dy="-3.6">3</tspan></text>
<text class="tk" x="393.7" y="480.3" text-anchor="middle">2</text>
<text class="tk" x="430.0" y="480.3" text-anchor="middle">4</text>
<text class="tk" x="466.3" y="480.3" text-anchor="middle">6</text>
<text class="tk" x="502.7" y="480.3" text-anchor="middle">8</text>
<text class="tk" x="539.0" y="480.3" text-anchor="middle">10</text>
<text class="tk" x="575.3" y="480.3" text-anchor="middle">12</text>
<text x="457" y="494" font-size="11" textLength="54" fill="#222">Voltage (V)</text>
<text transform="translate(339.6,438.2) rotate(-90)" font-size="12" textLength="134.5" fill="#222">Current density (mA cm<tspan font-size="8.2" dy="-4.6">-2</tspan><tspan dy="4.6">)</tspan></text>
</g>
<g id="panelF">
<clipPath id="cF"><rect x="685.5" y="275.5" width="221.0" height="192.0"/></clipPath>
<path d="M689.8 455.2C691 457.6 692.5 459.4 694.6 459.2C696.6 452 698 428 700.5 412.8C702.2 409.0 707.5 396.2 711.0 390.2C714.5 384.2 718.2 381.4 721.8 376.9C725.4 372.4 728.9 366.8 732.5 363.0C736.1 359.2 739.8 357.3 743.3 354.1C746.8 350.9 750.3 346.7 753.8 343.9C757.3 341.1 761.0 339.1 764.5 337.1C768.0 335.1 771.5 334.0 775.0 332.1C778.5 330.2 782.1 327.7 785.7 325.5C789.3 323.3 792.9 320.5 796.5 318.7C800.1 316.9 803.7 316.1 807.2 314.8C810.7 313.5 814.2 311.8 817.7 311.1C821.2 310.4 825.0 310.5 828.5 310.8C832.0 311.1 835.5 312.0 839.0 312.7C842.5 313.4 846.1 314.0 849.7 314.8C853.3 315.6 856.9 316.4 860.5 317.7C864.1 319.0 867.7 320.9 871.2 322.4C874.7 323.9 878.2 325.2 881.7 326.8C885.2 328.4 889.0 330.1 892.5 331.8C896.0 333.6 901.2 336.4 902.9 337.3" fill="none" stroke="#1a1a1a" stroke-width="0.9" stroke-dasharray="2 3"/>
<g clip-path="url(#cF)"><path d="M689.8 452.5L692.4 454.4L691.4 457.4L688.2 457.4L687.2 454.4ZM702.1 410.6L703.1 413.7L700.5 415.5L697.9 413.6L699.0 410.6ZM711.1 387.5L713.6 389.5L712.5 392.4L709.3 392.3L708.5 389.3ZM723.5 374.8L724.3 377.9L721.7 379.6L719.2 377.6L720.3 374.6ZM732.7 360.3L735.1 362.3L733.9 365.3L730.8 365.1L730.0 362.0ZM745.1 352.1L745.8 355.2L743.1 356.8L740.7 354.7L741.9 351.8ZM754.1 341.2L756.4 343.3L755.1 346.2L752.0 345.9L751.3 342.8ZM766.3 335.1L766.9 338.2L764.2 339.8L761.8 337.6L763.2 334.7ZM775.4 329.4L777.7 331.6L776.3 334.5L773.1 334.0L772.6 330.9ZM787.6 323.6L788.1 326.7L785.3 328.2L783.0 325.9L784.5 323.1ZM797.0 316.0L799.2 318.3L797.7 321.1L794.6 320.6L794.1 317.4ZM809.2 313.0L809.6 316.1L806.7 317.5L804.5 315.1L806.1 312.4ZM818.3 308.5L820.4 310.8L818.8 313.6L815.7 312.9L815.4 309.8ZM830.5 309.0L830.8 312.2L827.9 313.4L825.8 311.0L827.4 308.3ZM839.7 310.1L841.7 312.5L840.0 315.2L836.9 314.4L836.7 311.3ZM851.8 313.1L852.0 316.3L849.0 317.4L847.0 314.9L848.7 312.3ZM861.2 315.1L863.2 317.6L861.4 320.2L858.4 319.4L858.3 316.2ZM873.4 320.8L873.4 323.9L870.4 325.0L868.5 322.4L870.3 319.8ZM882.5 324.2L884.4 326.8L882.5 329.4L879.5 328.4L879.5 325.2ZM894.7 330.3L894.7 333.4L891.6 334.4L889.8 331.8L891.7 329.2ZM903.8 334.8L905.6 337.4L903.6 339.9L900.7 338.8L900.8 335.6Z" fill="#52a3d9" stroke="#1f2a36" stroke-width="0.85" stroke-linejoin="round"/></g>
<rect x="685.5" y="275.5" width="218.0" height="192.0" fill="none" stroke="#000" stroke-width="1.1"/>
<path d="M690.5 467.5v3.6M743.5 467.5v3.6M797.5 467.5v3.6M850.5 467.5v3.6M903.5 467.5v3.6" stroke="#000" stroke-width="1.0" fill="none"/>
<path d="M717.5 467.5v2.3M770.5 467.5v2.3M823.5 467.5v2.3M876.5 467.5v2.3" stroke="#000" stroke-width="1.0" fill="none"/>
<path d="M685.5 467.5h-3.8M685.5 398.5h-3.8M685.5 329.5h-3.8" stroke="#000" stroke-width="1.0" fill="none"/>
<path d="M685.5 446.5h-2.2M685.5 434.5h-2.2M685.5 426.5h-2.2M685.5 419.5h-2.2M685.5 413.5h-2.2M685.5 409.5h-2.2M685.5 405.5h-2.2M685.5 401.5h-2.2M685.5 377.5h-2.2M685.5 365.5h-2.2M685.5 357.5h-2.2M685.5 350.5h-2.2M685.5 344.5h-2.2M685.5 340.5h-2.2M685.5 336.5h-2.2M685.5 332.5h-2.2M685.5 308.5h-2.2M685.5 296.5h-2.2M685.5 288.5h-2.2M685.5 281.5h-2.2M685.5 276.5h-2.2" stroke="#000" stroke-width="0.9" fill="none"/>
<text x="678.6" y="470.1" class="tk" font-size="9.2" text-anchor="end">10<tspan font-size="5.9" dy="-3.6">0</tspan></text>
<text x="678.6" y="401.2" class="tk" font-size="9.2" text-anchor="end">10<tspan font-size="5.9" dy="-3.6">1</tspan></text>
<text x="678.6" y="332.3" class="tk" font-size="9.2" text-anchor="end">10<tspan font-size="5.9" dy="-3.6">2</tspan></text>
<text class="tk" x="690.6" y="480.3" text-anchor="middle">4</text>
<text class="tk" x="743.8" y="480.3" text-anchor="middle">6</text>
<text class="tk" x="797.0" y="480.3" text-anchor="middle">8</text>
<text class="tk" x="850.3" y="480.3" text-anchor="middle">10</text>
<text class="tk" x="903.5" y="480.3" text-anchor="middle">12</text>
<text x="767" y="494" font-size="11" textLength="54" fill="#222">Voltage (V)</text>
<text transform="translate(650.6,422.8) rotate(-90)" font-size="12" textLength="103.5" fill="#222">Luminance (cd m<tspan font-size="8.2" dy="-4.6">-2</tspan><tspan dy="4.6">)</tspan></text>
</g>
<g id="panelG">
<path d="M1010 393.6C1016 372 1024 349 1032.8 340.7C1040 337 1047 337.5 1053.8 338.9C1057.0 339.1 1067.1 339.1 1073.2 339.9C1079.3 340.7 1084.8 342.5 1090.2 343.9C1095.6 345.3 1100.7 346.5 1105.7 348.1C1110.7 349.8 1115.4 352.1 1120.1 353.8C1124.8 355.5 1129.5 356.7 1134.0 358.3C1138.5 359.9 1142.8 361.7 1147.1 363.5C1151.4 365.3 1155.7 367.4 1159.7 369.3C1163.7 371.2 1167.5 373.0 1171.0 375.1C1174.5 377.2 1178.2 379.6 1181.0 382.0C1183.8 384.4 1186.1 386.9 1188.0 389.4C1189.9 391.9 1191.2 394.7 1192.2 397.0C1193.2 399.3 1193.5 400.9 1194.1 403.1C1194.7 405.3 1195.5 408.0 1195.9 410.4C1196.3 412.8 1196.4 415.3 1196.7 417.5C1197.0 419.7 1197.4 422.8 1197.5 423.8" fill="none" stroke="#1a1a1a" stroke-width="0.95" stroke-dasharray="1.1 2.3"/>
<path d="M1010.0 390.9L1012.6 392.8L1011.6 395.8L1008.4 395.8L1007.4 392.8ZM1034.4 338.5L1035.4 341.6L1032.8 343.4L1030.2 341.5L1031.3 338.5ZM1053.9 336.2L1056.4 338.2L1055.3 341.1L1052.1 341.0L1051.3 338.0ZM1074.9 337.8L1075.7 340.9L1073.1 342.6L1070.6 340.6L1071.7 337.6ZM1090.4 341.2L1092.8 343.2L1091.6 346.2L1088.5 346.0L1087.7 342.9ZM1107.5 346.1L1108.2 349.2L1105.5 350.8L1103.1 348.7L1104.3 345.8ZM1120.4 351.1L1122.7 353.2L1121.4 356.1L1118.3 355.8L1117.6 352.7ZM1135.8 356.3L1136.4 359.4L1133.7 361.0L1131.3 358.8L1132.7 355.9ZM1147.5 360.8L1149.8 363.0L1148.4 365.9L1145.2 365.4L1144.7 362.3ZM1161.6 367.4L1162.1 370.5L1159.3 372.0L1157.0 369.7L1158.5 366.9ZM1171.5 372.4L1173.7 374.7L1172.2 377.5L1169.1 377.0L1168.6 373.8ZM1183.0 380.2L1183.4 383.3L1180.5 384.7L1178.3 382.3L1179.9 379.6ZM1188.6 386.8L1190.7 389.1L1189.1 391.9L1186.0 391.2L1185.7 388.0ZM1194.2 395.2L1194.5 398.4L1191.6 399.6L1189.5 397.2L1191.1 394.5ZM1194.8 400.5L1196.8 402.9L1195.1 405.6L1192.0 404.8L1191.8 401.7ZM1198.0 408.7L1198.2 411.9L1195.2 413.0L1193.2 410.5L1194.9 407.9ZM1197.4 414.9L1199.4 417.4L1197.6 420.0L1194.6 419.2L1194.5 416.0ZM1199.7 422.2L1199.7 425.3L1196.7 426.4L1194.8 423.8L1196.6 421.2Z" fill="#52a3d9" stroke="#1f2a36" stroke-width="0.85" stroke-linejoin="round"/>
<rect x="994.5" y="275.5" width="218.0" height="193.0" fill="none" stroke="#000" stroke-width="1.1"/>
<path d="M1054.5 468.5v3.6M1134.5 468.5v3.6" stroke="#000" stroke-width="1.0" fill="none"/>
<path d="M997.5 468.5v2.2M1012.5 468.5v2.2M1022.5 468.5v2.2M1029.5 468.5v2.2M1036.5 468.5v2.2M1041.5 468.5v2.2M1046.5 468.5v2.2M1050.5 468.5v2.2M1078.5 468.5v2.2M1092.5 468.5v2.2M1102.5 468.5v2.2M1110.5 468.5v2.2M1116.5 468.5v2.2M1122.5 468.5v2.2M1126.5 468.5v2.2M1130.5 468.5v2.2M1158.5 468.5v2.2M1173.5 468.5v2.2M1183.5 468.5v2.2M1190.5 468.5v2.2M1197.5 468.5v2.2M1202.5 468.5v2.2M1207.5 468.5v2.2M1211.5 468.5v2.2" stroke="#000" stroke-width="0.9" fill="none"/>
<path d="M994.5 275.5h-3.8M994.5 359.5h-3.8M994.5 443.5h-3.8" stroke="#000" stroke-width="1.0" fill="none"/>
<path d="M994.5 461.5h-2.2M994.5 456.5h-2.2M994.5 451.5h-2.2M994.5 447.5h-2.2M994.5 417.5h-2.2M994.5 403.5h-2.2M994.5 392.5h-2.2M994.5 384.5h-2.2M994.5 377.5h-2.2M994.5 372.5h-2.2M994.5 367.5h-2.2M994.5 363.5h-2.2M994.5 334.5h-2.2M994.5 319.5h-2.2M994.5 308.5h-2.2M994.5 300.5h-2.2M994.5 294.5h-2.2M994.5 288.5h-2.2M994.5 283.5h-2.2M994.5 279.5h-2.2" stroke="#000" stroke-width="0.9" fill="none"/>
<text class="tk" x="987.4" y="277.1" text-anchor="end">1</text>
<text class="tk" x="987.4" y="361.0" text-anchor="end">0.1</text>
<text class="tk" x="987.4" y="444.8" text-anchor="end">0.01</text>
<text class="tk" x="1054.1" y="480.6" text-anchor="middle">10</text>
<text class="tk" x="1134.6" y="480.6" text-anchor="middle">100</text>
<text x="1035.6" y="496.7" font-size="12" textLength="136.6" fill="#222">Current density (mA cm<tspan font-size="8.2" dy="-4.6">-2</tspan><tspan dy="4.6">)</tspan></text>
<text transform="translate(965.2,393.8) rotate(-90)" font-size="11" textLength="43.4" fill="#222">EQE (%)</text>
</g>
<text class="pl" transform="translate(2.9,28.9) scale(0.955,1)">A</text>
<text class="pl" transform="translate(333.9,28.9) scale(0.955,1)">B</text>
<text class="pl" transform="translate(927.6,28.9) scale(0.955,1)">C</text>
<text class="pl" transform="translate(4,275) scale(0.955,1)">D</text>
<text class="pl" transform="translate(336,275) scale(0.955,1)">E</text>
<text class="pl" transform="translate(658,275) scale(0.955,1)">F</text>
<text class="pl" transform="translate(950.7,275) scale(0.955,1)">G</text>
</svg>
</body></html>
